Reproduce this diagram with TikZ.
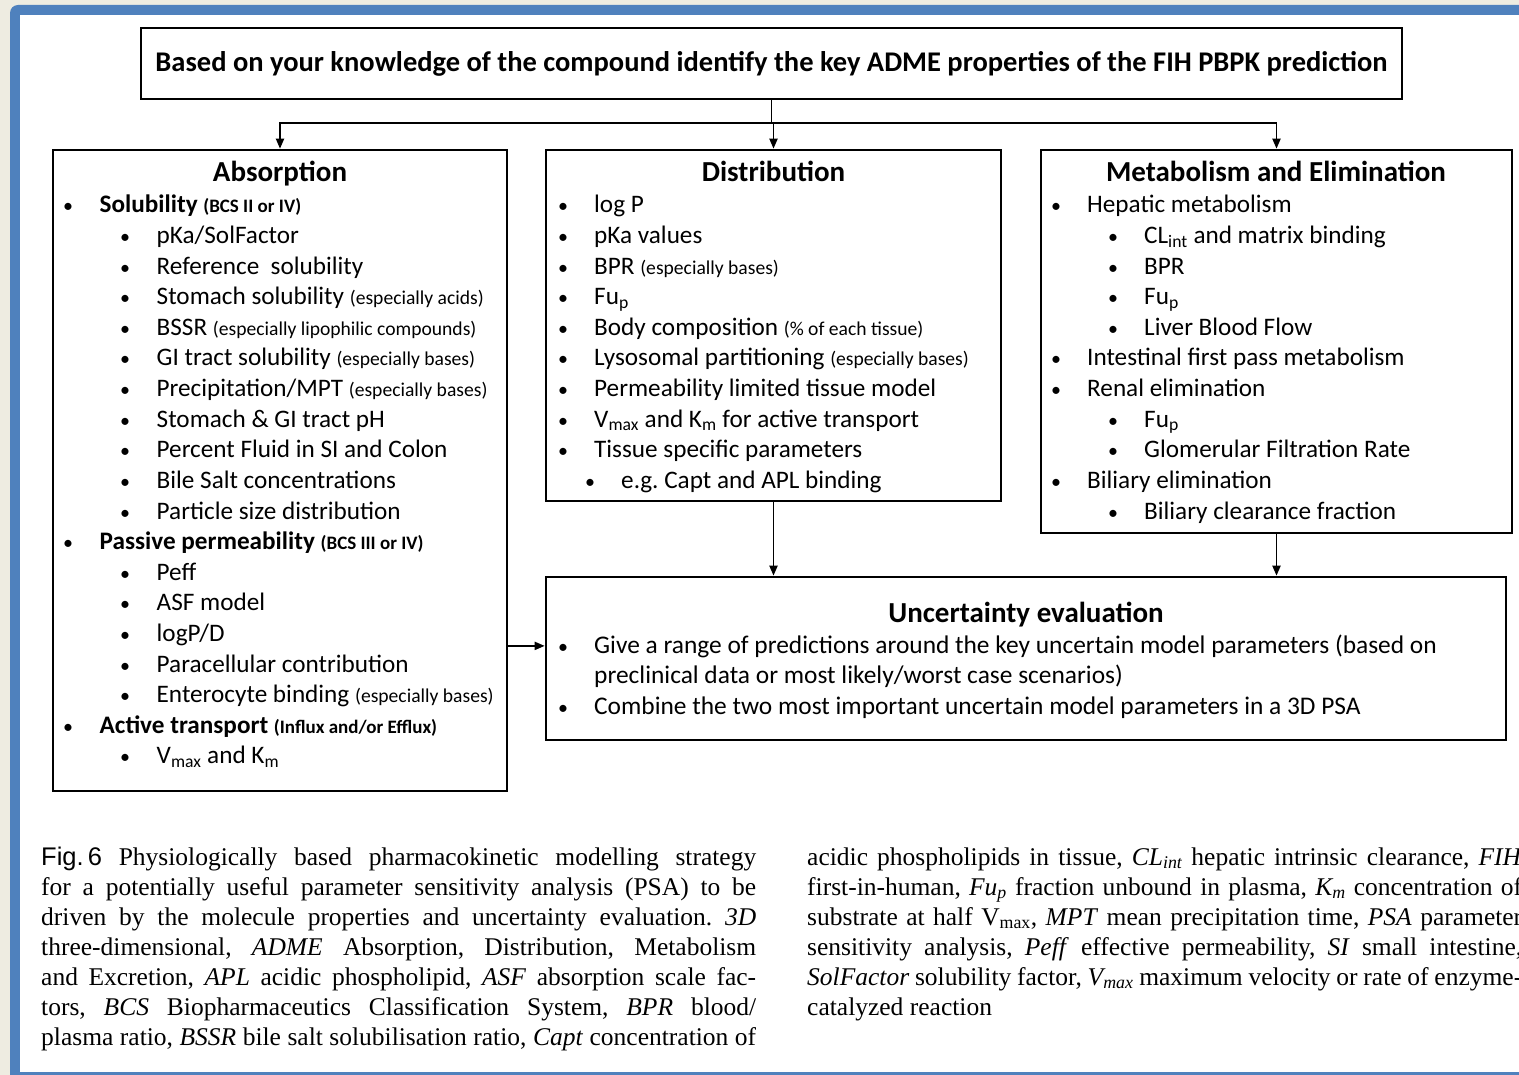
\documentclass[tikz,border=0pt]{standalone}
\usepackage{fontspec}
\setmainfont{Carlito}
\newfontfamily\capfont{Liberation Serif}
\newfontfamily\figfont{Liberation Sans}
\usetikzlibrary{arrows.meta, calc}
\definecolor{framebl}{HTML}{4F81BD}
\definecolor{paper}{HTML}{EEECE1}
\frenchspacing
\newcommand{\sm}[1]{{\fontsize{19.6}{21}\selectfont #1}}
\newcommand{\smb}[1]{{\fontsize{19}{21}\selectfont\bfseries #1}}
\tikzset{
    box/.style={draw, line width=2.6pt, inner sep=0pt},
    head/.style={anchor=base, inner sep=0pt, font=\fontsize{29}{32}\selectfont\bfseries},
    itm/.style={anchor=base west, inner sep=0pt, font=\fontsize{25.2}{28}\selectfont},
    uitm/.style={itm, font=\fontsize{25.4}{28}\selectfont},
    dot/.style={anchor=base, inner sep=0pt, font=\fontsize{20}{24}\selectfont},
    link/.style={line width=1.9pt},
    arr/.style={link, -{Triangle[length=10pt,width=8pt]}},
    capline/.style={anchor=base west, inner sep=0pt, font=\capfont\fontsize{25.5}{30}\selectfont},
}

\begin{document}
\begin{tikzpicture}[x=1pt, y=-1pt]
    \useasboundingbox (0,0) rectangle (1519,1075);
    \clip (0,0) rectangle (1519,1075);

    % slide frame
    \fill[paper] (0,0) rectangle (1519,1075);
    \fill[framebl, rounded corners=8pt] (10,5) rectangle (1560,1100);
    \fill[white] (20,15) rectangle (1560,1072);

    % boxes
    \node[box, minimum width=1261pt, minimum height=71pt, font=\fontsize{28.5}{32}\selectfont\bfseries] (top) at (771.5,63.5)
        {Based on your knowledge of the compound identify the key ADME properties of the FIH PBPK prediction};
    \node[box, minimum width=454pt, minimum height=641pt] (abs) at (280,470.5) {};
    \node[box, minimum width=455pt, minimum height=351pt] (dist) at (773.5,325.5) {};
    \node[box, minimum width=471pt, minimum height=383pt] (met) at (1276.5,341.5) {};
    \node[box, minimum width=960pt, minimum height=163pt] (unc) at (1026,658.5) {};

    % headings
    \node[head] (abs-h) at (280,182) {Absorption};
    \node[head] (dist-h) at (773.5,182) {Distribution};
    \node[head] (met-h) at (1276,182) {Metabolism and Elimination};
    \node[head] (unc-h) at (1026,622) {Uncertainty evaluation};

    % absorption list
    \foreach \bx/\rw/\t in {68/0/{\textbf{Solubility} \smb{(BCS II or IV)}},
        125/1/{pKa/SolFactor}, 125/2/{Reference\ \ solubility},
        125/3/{Stomach solubility \sm{(especially acids)}},
        125/4/{BSSR \sm{(especially lipophilic compounds)}},
        125/5/{GI tract solubility \sm{(especially bases)}},
        125/6/{Precipitation/MPT \sm{(especially bases)}},
        125/7/{Stomach \& GI tract pH}, 125/8/{Percent Fluid in SI and Colon},
        125/9/{Bile Salt concentrations}, 125/10/{Particle size distribution},
        68/11/{\textbf{Passive permeability} \smb{(BCS III or IV)}},
        125/12/{Peff}, 125/13/{ASF model}, 125/14/{logP/D},
        125/15/{Paracellular contribution},
        125/16/{Enterocyte binding \sm{(especially bases)}},
        68/17/{\textbf{Active transport} \smb{(Influx and/or Efflux)}},
        125/18/{V\textsubscript{max} and K\textsubscript{m}}}
    {
        \node[dot] (abs-b\rw) at (\bx,{213+\rw*30.6}) {\textbullet};
        \node[itm] (abs-\rw) at ({\bx+31.5},{213+\rw*30.6}) {\t};
    }

    % distribution list
    \foreach \bx/\rw/\t in {563/0/{log P}, 563/1/{pKa values},
        563/2/{BPR \sm{(especially bases)}}, 563/3/{Fu\textsubscript{p}},
        563/4/{Body composition \sm{(\% of each tissue)}},
        563/5/{Lysosomal partitioning \sm{(especially bases)}},
        563/6/{Permeability limited tissue model},
        563/7/{V\textsubscript{max} and K\textsubscript{m} for active transport},
        563/8/{Tissue specific parameters}, 590/9/{e.g. Capt and APL binding}}
    {
        \node[dot] (dist-b\rw) at (\bx,{213+\rw*30.6}) {\textbullet};
        \node[itm] (dist-\rw) at ({\bx+31},{213+\rw*30.6}) {\t};
    }

    % metabolism list
    \foreach \bx/\rw/\t in {1056/0/{Hepatic metabolism},
        1113/1/{CL\textsubscript{int} and matrix binding}, 1113/2/{BPR},
        1113/3/{Fu\textsubscript{p}}, 1113/4/{Liver Blood Flow},
        1056/5/{Intestinal first pass metabolism}, 1056/6/{Renal elimination},
        1113/7/{Fu\textsubscript{p}}, 1113/8/{Glomerular\ Filtration Rate},
        1056/9/{Biliary elimination}, 1113/10/{Biliary clearance\ fraction}}
    {
        \node[dot] (met-b\rw) at (\bx,{213+\rw*30.6}) {\textbullet};
        \node[itm] (met-\rw) at ({\bx+31},{213+\rw*30.6}) {\t};
    }

    % uncertainty list
    \node[dot] (unc-b1) at (563,653) {\textbullet};
    \node[uitm] (unc-1) at (594,653) {Give a range of predictions around the key uncertain model parameters (based on};
    \node[uitm] (unc-2) at (594,683.5) {preclinical data or most likely/worst case scenarios)};
    \node[dot] (unc-b3) at (563,714) {\textbullet};
    \node[uitm] (unc-3) at (594,714) {Combine the two most important uncertain model parameters in a 3D PSA};

    % connectors
    \draw[link] (top.south) -- ++(0,23) coordinate (fork);
    \draw[arr] (fork) -| (abs.north);
    \draw[arr] (fork) -| (dist.north);
    \draw[arr] (fork) -| (met.north);
    \draw[arr] (dist.south) -- (dist.south |- unc.north);
    \draw[arr] (met.south) -- (met.south |- unc.north);
    \draw[arr] (unc-1 -| abs.east) -- (unc-1 -| unc.west);

    % caption
    \foreach \rw/\t in {0/{{\figfont Fig.\,6} Physiologically based pharmacokinetic modelling strategy},
        1/{for a potentially useful parameter sensitivity analysis (PSA) to be},
        2/{driven by the molecule properties and uncertainty evaluation. \textit{3D}},
        3/{three-dimensional, \textit{ADME} Absorption, Distribution, Metabolism},
        4/{and Excretion, \textit{APL} acidic phospholipid, \textit{ASF} absorption scale fac-},
        5/{tors, \textit{BCS} Biopharmaceutics Classification System, \textit{BPR} blood/},
        6/{plasma ratio, \textit{BSSR} bile salt solubilisation ratio, \textit{Capt} concentration of}}
    {
        \node[capline] (capa-\rw) at (41,{865+\rw*30}) {\makebox[715pt][s]{\t}};
    }
    \foreach \rw/\t in {0/{acidic phospholipids in tissue, \textit{CL\textsubscript{int}} hepatic intrinsic clearance, \textit{FIH}},
        1/{first-in-human, \textit{Fu\textsubscript{p}} fraction unbound in plasma, \textit{K\textsubscript{m}} concentration of},
        2/{substrate at half V\textsubscript{max}, \textit{MPT} mean precipitation time, \textit{PSA} parameter},
        3/{sensitivity analysis, \textit{Peff} effective permeability, \textit{SI} small intestine,},
        4/{\textit{SolFactor} solubility factor, \textit{V\textsubscript{max}} maximum velocity or rate of enzyme-}}
    {
        \node[capline] (capb-\rw) at (807,{865+\rw*30}) {\makebox[715pt][s]{\t}};
    }
    \node[capline] (capb-5) at (807,1015) {catalyzed reaction};
\end{tikzpicture}
\end{document}
